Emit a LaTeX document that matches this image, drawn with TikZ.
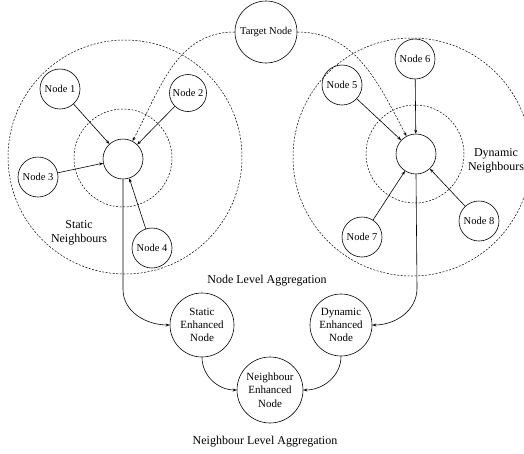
\documentclass[tikz,border=0pt]{standalone}
\usepackage{fontspec}
\setmainfont{Liberation Serif}
\usetikzlibrary{arrows.meta}
\begin{document}
\begin{tikzpicture}[x=1pt,y=-1pt,line width=0.6pt,>={Stealth[length=4pt,width=3pt]},
	nd/.style={draw,circle,minimum size=40pt,inner sep=0pt,font=\fontsize{10.5}{12}\selectfont},
	enh/.style={draw,circle,minimum size=64pt,inner sep=0pt,align=center,font=\fontsize{11}{13.3}\selectfont},
	ring/.style={draw,circle,inner sep=0pt,line width=0.5pt,dash pattern=on 2pt off 1.5pt},
	lbl/.style={align=center,font=\fontsize{12}{14}\selectfont}]
	\useasboundingbox (0,0) rectangle (524,453);
	\clip (0,0) rectangle (524,453);
	% static side
	\node[ring,minimum size=234pt] (sbig) at (125,157) {};
	\node[ring,minimum size=98pt] (ssmall) at (123,158) {};
	\node[nd] (sc) at (123,159) {};
	\node[nd] (n1) at (60,89) {Node 1};
	\node[nd,minimum size=37pt] (n2) at (188,93) {Node 2};
	\node[nd] (n3) at (38,177) {Node 3};
	\node[nd] (n4) at (152,248) {Node 4};
	\node[lbl] (slbl) at (79,233) {Static\\Neighbours};
	% dynamic side
	\node[ring,minimum size=238pt] (dbig) at (412,157) {};
	\node[ring,minimum size=98pt] (dsmall) at (415,154) {};
	\node[nd] (dc) at (416,154) {};
	\node[nd] (n5) at (342,85) {Node 5};
	\node[nd] (n6) at (415,59) {Node 6};
	\node[nd] (n7) at (362,237) {Node 7};
	\node[nd] (n8) at (479,221) {Node 8};
	\node[lbl] (dlbl) at (496,161) {Dynamic\\Neighbours};
	% target
	\node[nd,minimum size=62pt] (tgt) at (266,32) {Target Node};
	\draw[->,line width=0.5pt,dash pattern=on 2pt off 1.5pt] (tgt.west) to[out=180,in=62] (sc.62);
	\draw[->,line width=0.5pt,dash pattern=on 2pt off 1.5pt] (tgt.east) to[out=0,in=118] (dc.118);
	\foreach \n in {n1,n2,n3,n4} \draw[->] (\n) -- (sc);
	\foreach \n in {n5,n6,n7,n8} \draw[->] (\n) -- (dc);
	% aggregation
	\node[lbl] (nla) at (267,281) {Node Level Aggregation};
	\node[enh] (se) at (202,325) {Static\\Enhanced\\Node};
	\node[enh,minimum size=62pt] (de) at (341,325) {Dynamic\\Enhanced\\Node};
	\node[enh,minimum size=66pt] (ne) at (270,390) {Neighbour\\Enhanced\\Node};
	\node[lbl] (lla) at (265,442) {Neighbour Level Aggregation};
	\draw[->] (sc.south) -- ++(0,110) to[out=-90,in=180] (se.west);
	\draw[->] (dc.south) -- ++(1,114) to[out=-90,in=0] (de.east);
	\draw[->] (se.south) to[out=-90,in=180] (ne.west);
	\draw[->] (de.south) to[out=-90,in=0] (ne.east);
\end{tikzpicture}
\end{document}
